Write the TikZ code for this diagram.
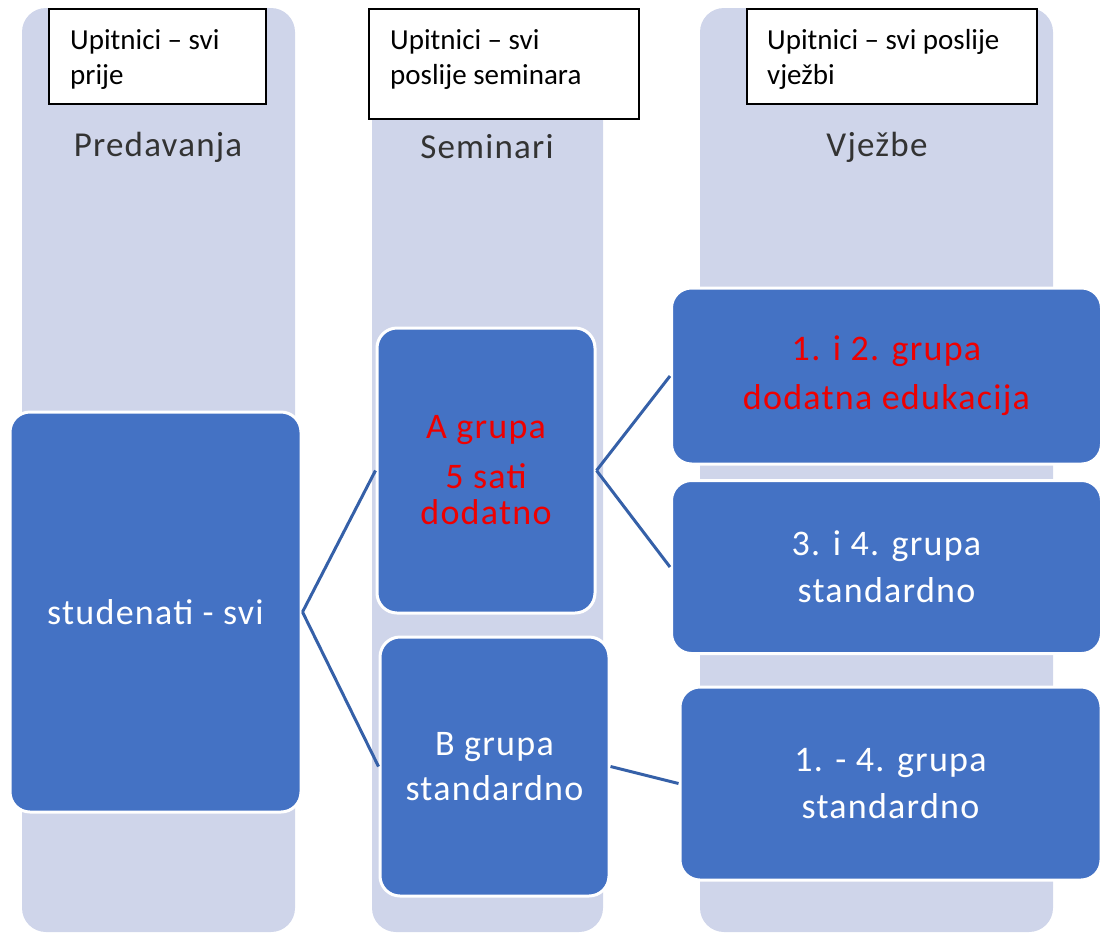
\documentclass[tikz,border=0pt]{standalone}
\usepackage{fontspec}
\setmainfont{Carlito}
\newfontfamily\widefont[LetterSpace=3.5]{Carlito}
\definecolor{colfill}{HTML}{CFD5EA}
\definecolor{boxblue}{HTML}{4472C4}
\definecolor{linkblue}{HTML}{3560A8}
\definecolor{headgray}{HTML}{333333}
\definecolor{redtxt}{HTML}{EE0000}
\begin{document}
\begin{tikzpicture}[x=1pt,y=-1pt,
  column/.style={fill=colfill, rounded corners=24pt},
  bluebox/.style={draw=white, line width=3pt, fill=boxblue, rounded corners=20pt,
    text=white, align=center, inner sep=0pt, font=\widefont\fontsize{36}{47}\selectfont},
  qbox/.style={draw=black, line width=1.6pt, fill=white, inner sep=0pt},
  qtext/.style={anchor=base west, align=left, inner sep=0pt, font=\fontsize{29}{35}\selectfont},
  head/.style={text=headgray, inner sep=0pt, font=\widefont\fontsize{35}{42}\selectfont},
  link/.style={draw=linkblue, line width=3pt}]
\useasboundingbox (0,0) rectangle (1103,932);
% columns
\fill[column] (22,8) rectangle (295,932);
\fill[column] (372,8) rectangle (603,932);
\fill[column] (700,8) rectangle (1053,932);
% questionnaire boxes
\node[qbox, minimum width=217pt, minimum height=95pt, anchor=north west] (q1) at (48,8) {};
\node[qbox, minimum width=270pt, minimum height=110pt, anchor=north west] (q2) at (368,8) {};
\node[qbox, minimum width=290pt, minimum height=95pt, anchor=north west] (q3) at (746,8) {};
\node[qtext] (q1t) at (70,84) {Upitnici – svi\\prije};
\node[qtext] (q2t) at (390,84) {Upitnici – svi\\poslije seminara};
\node[qtext] (q3t) at (767,84) {Upitnici – svi poslije\\vježbi};
% column headings
\node[head] (h1) at (158,147) {Predavanja};
\node[head] (h2) at (487,147) {Seminari};
\node[head] (h3) at (877,147) {Vježbe};
% blue boxes
\node[bluebox, minimum width=291pt, minimum height=400pt] (stud) at (155.5,612) {studenati - svi};
\node[bluebox, minimum width=218pt, minimum height=285pt] (A) at (486,470.5)
  {\color{redtxt}A grupa\\[3pt]\color{redtxt}5 sati\\[-11pt]\color{redtxt}dodatno};
\node[bluebox, minimum width=229pt, minimum height=259pt] (B) at (494.5,766.5) {B grupa\\[-2pt]standardno};
\node[bluebox, minimum width=430pt, minimum height=176pt] (R1) at (886.5,376)
  {\color{redtxt}1. i 2. grupa\\[2pt]\color{redtxt}dodatna edukacija};
\node[bluebox, minimum width=430pt, minimum height=173pt] (R2) at (886.5,567) {3. i 4. grupa\\standardno};
\node[bluebox, minimum width=421pt, minimum height=193pt] (R3) at (890.5,783.5) {1. - 4. grupa\\standardno};
% connectors
\draw[link] (stud.east) -- (A.west);
\draw[link] (stud.east) -- (B.west);
\draw[link] (A.east) -- (R1.west);
\draw[link] (A.east) -- (R2.west);
\draw[link] (B.east) -- (R3.west);
\end{tikzpicture}
\end{document}
